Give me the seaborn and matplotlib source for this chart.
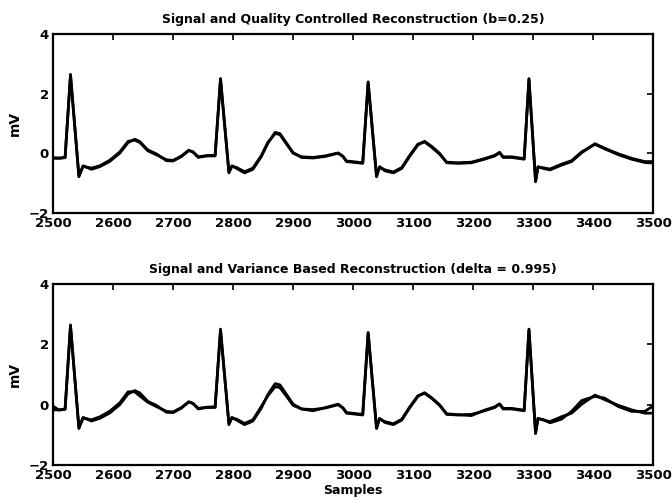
import matplotlib
matplotlib.use("Agg")
import matplotlib.pyplot as plt
import seaborn as sns
import pandas as pd

samples = [2500, 2510, 2520, 2529, 2543, 2550, 2564, 2578, 2594, 2611, 2625, 2636, 2644,
           2658, 2672, 2689, 2700, 2714, 2726, 2733, 2742, 2756, 2770, 2779, 2793, 2798,
           2806, 2819, 2833, 2847, 2858, 2870, 2878, 2889, 2900, 2914, 2933, 2953, 2975,
           2983, 2989, 3003, 3016, 3025, 3039, 3044, 3053, 3067, 3081, 3094, 3108, 3119,
           3131, 3144, 3156, 3175, 3197, 3219, 3236, 3244, 3250, 3264, 3285, 3293, 3304,
           3308, 3317, 3328, 3347, 3364, 3381, 3403, 3419, 3442, 3464, 3486, 3500]

signal = [-0.17, -0.17, -0.15, 2.65, -0.79, -0.42, -0.54, -0.45, -0.28, 0.00, 0.36, 0.47, 0.40,
          0.11, -0.02, -0.25, -0.26, -0.11, 0.09, 0.05, -0.14, -0.09, -0.09, 2.51, -0.66, -0.42,
          -0.51, -0.66, -0.54, -0.11, 0.34, 0.70, 0.66, 0.34, 0.02, -0.14, -0.16, -0.11, 0.00,
          -0.11, -0.28, -0.31, -0.34, 2.40, -0.79, -0.45, -0.59, -0.66, -0.51, -0.11, 0.28, 0.40,
          0.23, 0.00, -0.32, -0.34, -0.32, -0.20, -0.09, 0.02, -0.14, -0.14, -0.20, 2.51, -0.96,
          -0.45, -0.51, -0.56, -0.40, -0.28, 0.02, 0.32, 0.17, -0.02, -0.17, -0.28, -0.28]

recon_quality = [-0.15, -0.16, -0.14, 2.62, -0.76, -0.44, -0.50, -0.42, -0.24, 0.04, 0.40, 0.44, 0.37,
                 0.08, -0.05, -0.22, -0.24, -0.09, 0.10, 0.04, -0.12, -0.08, -0.07, 2.48, -0.63, -0.44,
                 -0.48, -0.62, -0.50, -0.08, 0.37, 0.66, 0.63, 0.31, 0.00, -0.12, -0.14, -0.09, 0.01,
                 -0.10, -0.26, -0.29, -0.32, 2.37, -0.76, -0.47, -0.56, -0.63, -0.48, -0.08, 0.31, 0.38,
                 0.20, -0.03, -0.30, -0.32, -0.30, -0.18, -0.07, 0.03, -0.12, -0.12, -0.18, 2.48, -0.93,
                 -0.47, -0.49, -0.53, -0.37, -0.25, 0.05, 0.30, 0.15, -0.05, -0.20, -0.31, -0.33]

recon_variance = [-0.05, -0.18, -0.14, 2.60, -0.75, -0.44, -0.50, -0.40, -0.22, 0.06, 0.43, 0.43, 0.30,
                  0.08, -0.06, -0.22, -0.24, -0.09, 0.10, 0.04, -0.12, -0.08, -0.07, 2.46, -0.62, -0.44,
                  -0.48, -0.62, -0.50, -0.06, 0.30, 0.60, 0.57, 0.28, -0.02, -0.14, -0.20, -0.10, 0.02,
                  -0.10, -0.26, -0.29, -0.32, 2.37, -0.76, -0.47, -0.56, -0.63, -0.48, -0.08, 0.30, 0.38,
                  0.21, -0.02, -0.30, -0.33, -0.36, -0.18, -0.07, 0.03, -0.12, -0.12, -0.18, 2.48, -0.93,
                  -0.47, -0.49, -0.60, -0.48, -0.22, 0.14, 0.28, 0.22, -0.06, -0.22, -0.22, -0.04]

titles = ["Signal and Quality Controlled Reconstruction (b=0.25)",
          "Signal and Variance Based Reconstruction (delta = 0.995)"]
x_ticks = [2500, 2600, 2700, 2800, 2900, 3000, 3100, 3200, 3300, 3400, 3500]
y_ticks = [-2, 0, 2, 4]

sns.set_style("white")
plt.rcParams["font.family"] = ["DejaVu Sans"]
plt.rcParams["font.weight"] = "bold"
for key in ["text.color", "axes.labelcolor", "xtick.color", "ytick.color", "axes.edgecolor"]:
    plt.rcParams[key] = "black"

fig = plt.figure(figsize=(6.72, 5.03), dpi=100)
ax_top = fig.add_axes([0.079, 0.577, 0.893, 0.355])
ax_bot = fig.add_axes([0.079, 0.0755, 0.893, 0.3595])

for ax, recon, title in [(ax_top, recon_quality, titles[0]), (ax_bot, recon_variance, titles[1])]:
    df = pd.DataFrame({
        "Samples": samples + samples,
        "mV": signal + recon,
        "series": ["signal"] * len(samples) + ["recon"] * len(samples),
    })
    sns.lineplot(data=df, x="Samples", y="mV", hue="series", units="series",
                 estimator=None, sort=False, palette={"signal": "black", "recon": "black"},
                 linewidth=2.0, legend=False, ax=ax)
    ax.set_xlim(2500, 3500)
    ax.set_ylim(-2, 4)
    ax.set_xticks(x_ticks)
    ax.set_yticks(y_ticks)
    ax.set_title(title, fontsize=9, fontweight="bold", pad=8, color="black")
    ax.set_ylabel("mV", fontsize=10, fontweight="bold", labelpad=5, color="black")
    ax.set_xlabel("")
    ax.tick_params(direction="in", length=4, width=1.2, top=True, right=True,
                   labelsize=9.5, pad=3, colors="black")
    for lab in ax.get_xticklabels() + ax.get_yticklabels():
        lab.set_fontweight("bold")
    for sp in ax.spines.values():
        sp.set_visible(True)
        sp.set_linewidth(1.6)
        sp.set_color("black")

ax_bot.set_xlabel("Samples", fontsize=9, fontweight="bold", labelpad=1, color="black")

fig.savefig("out.png", dpi=100)
